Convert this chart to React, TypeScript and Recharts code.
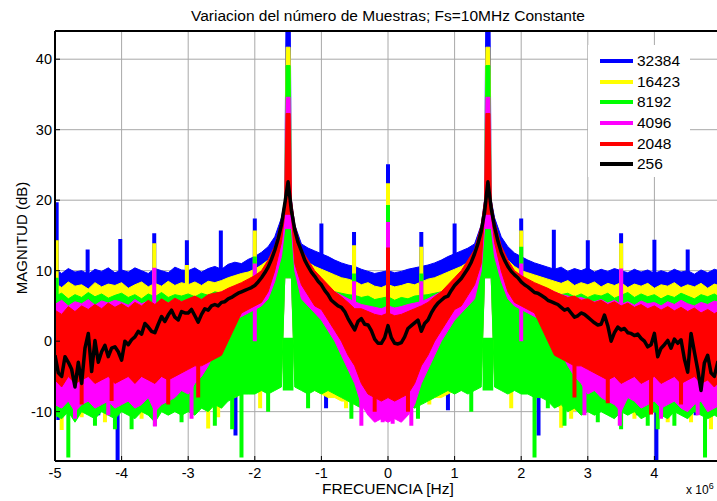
import React from 'react';
import { ComposedChart, Area, Line, XAxis, YAxis, CartesianGrid, ReferenceLine, Legend } from 'recharts';

const FONT = "'Liberation Sans', Arial, Helvetica, sans-serif";

// frequency grid (MHz) of the noise envelopes
const freq = [
  -5, -4.9, -4.8, -4.7, -4.6, -4.5, -4.4, -4.3, -4.2, -4.1,
  -4, -3.9, -3.8, -3.7, -3.6, -3.5, -3.4, -3.3, -3.2, -3.1,
  -3, -2.9, -2.8, -2.7, -2.6, -2.5, -2.4, -2.3, -2.2, -2.1,
  -2, -1.9, -1.8, -1.7, -1.6, -1.55, -1.53, -1.5, -1.47, -1.45,
  -1.4, -1.3, -1.2, -1.1, -1, -0.9, -0.8, -0.7, -0.6, -0.5,
  -0.4, -0.3, -0.2, -0.1, 0, 0.1, 0.2, 0.3, 0.4, 0.5,
  0.6, 0.7, 0.8, 0.9, 1, 1.1, 1.2, 1.3, 1.4, 1.45,
  1.47, 1.5, 1.53, 1.55, 1.6, 1.7, 1.8, 1.9, 2, 2.1,
  2.2, 2.3, 2.4, 2.5, 2.6, 2.7, 2.8, 2.9, 3, 3.1,
  3.2, 3.3, 3.4, 3.5, 3.6, 3.7, 3.8, 3.9, 4, 4.1,
  4.2, 4.3, 4.4, 4.5, 4.6, 4.7, 4.8, 4.9, 5,
];

// 32384 samples
const blueHi = [
  10.2, 9.6, 10.3, 9.8, 10.0, 9.5, 10.2, 9.9, 10.4, 9.7,
  10.1, 9.8, 10.4, 10.0, 9.6, 10.3, 10.0, 9.7, 10.5, 10.1,
  10.0, 10.4, 9.8, 10.3, 10.6, 10.2, 10.9, 11.2, 11.0, 11.6,
  12.0, 12.6, 13.4, 14.8, 17.5, 20.0, 48, 48, 48, 20.0,
  16.5, 13.8, 13.2, 12.8, 12.4, 12.0, 11.5, 11.1, 10.8, 10.6,
  10.2, 9.9, 9.6, 9.8, 10.0, 9.7, 9.9, 10.2, 10.4, 10.6,
  10.8, 11.1, 11.5, 12.0, 12.4, 12.8, 13.2, 13.8, 16.5, 20.0,
  48, 48, 48, 20.0, 17.5, 14.8, 13.4, 12.5, 12.0, 11.5,
  11.1, 10.8, 10.5, 10.2, 10.5, 9.9, 10.3, 10.0, 10.4, 9.8,
  10.2, 9.9, 10.3, 10.0, 9.7, 10.2, 9.8, 10.1, 9.6, 10.0,
  9.7, 10.2, 9.8, 10.0, 9.5, 10.1, 9.7, 10.2, 9.9,
];
const blueLo = [
  -8.5, -9.0, -8.0, -7.5, -8.5, -7.0, -8.0, -7.5, -8.5, -7.0,
  -8.0, -7.0, -7.5, -8.0, -7.0, -8.5, -7.5, -7.0, -8.0, -7.5,
  -8.0, -7.0, -7.5, -8.0, -7.0, -8.0, -7.0, -7.5, -7.0, -6.5,
  -6.5, -6.0, -6.0, -5.5, -5.0, 9, 9, 9, 9, 9,
  -5.0, -6.0, -6.5, -6.5, -7.0, -7.5, -7.0, -7.5, -8.0, -8.0,
  -8.5, -8.0, -8.5, -8.0, -8.5, -8.0, -8.5, -8.0, -8.5, -8.0,
  -7.5, -7.5, -7.0, -7.0, -6.5, -6.5, -6.0, -6.0, -5.0, 9,
  9, 9, 9, 9, -5.0, -5.5, -6.0, -6.0, -6.5, -6.5,
  -7.0, -7.5, -7.0, -8.0, -7.0, -7.5, -8.0, -7.0, -8.0, -7.5,
  -7.0, -8.0, -7.5, -7.0, -8.0, -7.5, -8.5, -7.0, -8.0, -7.5,
  -8.5, -7.0, -8.0, -7.5, -8.5, -7.0, -8.0, -9.0, -8.5,
];

// 16423 samples
const yellowHi = [
  8.2, 7.6, 8.4, 7.8, 8.0, 7.4, 8.3, 7.7, 8.1, 7.9,
  8.3, 7.5, 8.0, 8.4, 7.7, 8.2, 7.8, 8.5, 7.9, 8.3,
  8.0, 8.4, 7.9, 8.5, 8.3, 8.6, 9.0, 9.3, 9.6, 9.8,
  10.2, 10.8, 11.5, 13.0, 16.0, 19.0, 41.7, 41.7, 41.7, 19.0,
  15.0, 12.0, 11.2, 10.6, 10.2, 9.8, 9.4, 9.0, 8.8, 8.5,
  8.0, 8.3, 7.8, 7.6, 8.0, 7.7, 7.9, 8.2, 8.0, 8.4,
  8.8, 9.0, 9.4, 9.8, 10.2, 10.6, 11.2, 12.0, 15.0, 19.0,
  41.7, 41.7, 41.7, 19.0, 16.0, 13.0, 11.5, 10.6, 10.0, 9.7,
  9.4, 9.1, 8.8, 8.5, 8.2, 8.6, 7.9, 8.3, 8.0, 8.4,
  7.7, 8.2, 7.9, 8.3, 7.6, 8.1, 7.8, 8.2, 7.5, 8.0,
  7.8, 8.3, 7.6, 8.0, 7.7, 8.2, 7.5, 8.1, 7.8,
];
const yellowLo = [
  -9.5, -10.0, -9.0, -9.5, -10.5, -9.0, -9.5, -8.5, -9.0, -9.5,
  -9.0, -8.5, -9.5, -9.0, -8.5, -9.5, -9.0, -10.0, -9.0, -8.5,
  -9.0, -9.5, -8.5, -10.0, -9.0, -9.5, -8.0, -8.0, -7.5, -7.0,
  -7.0, -6.5, -6.5, -6.0, -5.5, 9, 9, 9, 9, 9,
  -5.5, -6.5, -7.0, -7.0, -7.5, -8.0, -8.0, -8.5, -8.5, -9.0,
  -9.0, -9.5, -9.0, -9.5, -9.0, -9.5, -9.0, -9.5, -9.0, -8.5,
  -8.5, -8.0, -8.0, -7.5, -7.0, -7.0, -6.5, -6.5, -5.5, 9,
  9, 9, 9, 9, -5.5, -6.0, -6.5, -6.5, -7.0, -7.0,
  -7.5, -8.0, -8.0, -9.0, -9.5, -9.0, -10.0, -9.0, -9.5, -9.0,
  -8.5, -9.5, -9.0, -8.5, -9.5, -9.0, -10.0, -9.0, -9.5, -9.0,
  -9.5, -8.5, -9.0, -10.0, -9.0, -9.5, -10.0, -9.5, -9.0,
];

// 8192 samples
const greenHi = [
  6.4, 6.8, 6.0, 6.6, 6.2, 6.9, 6.3, 6.7, 6.1, 6.5,
  6.8, 6.2, 6.6, 6.0, 6.7, 6.3, 6.9, 6.2, 6.6, 6.4,
  6.7, 6.3, 6.8, 6.5, 7.0, 6.8, 7.2, 7.4, 7.6, 7.8,
  8.1, 8.6, 9.2, 10.5, 13.0, 16.0, 39.1, 39.1, 39.1, 16.0,
  12.0, 9.6, 8.6, 8.1, 7.6, 7.3, 7.0, 6.8, 6.6, 6.5,
  6.2, 6.4, 5.9, 6.1, 6.3, 5.8, 6.2, 6.0, 6.4, 6.5,
  6.6, 6.8, 7.0, 7.3, 7.6, 8.0, 8.6, 9.5, 12.0, 16.0,
  39.1, 39.1, 39.1, 16.0, 13.0, 10.5, 9.2, 8.6, 8.1, 7.8,
  7.6, 7.3, 7.1, 6.9, 6.6, 6.8, 6.3, 6.7, 6.2, 6.6,
  6.4, 6.8, 6.1, 6.5, 6.9, 6.2, 6.7, 6.3, 6.6, 6.0,
  6.5, 6.2, 6.8, 6.4, 6.0, 6.6, 6.3, 6.7, 6.1,
];
const greenLo = [
  -10.5, -11.0, -10.0, -11.5, -10.0, -10.5, -11.0, -10.0, -10.5, -11.0,
  -10.0, -10.5, -11.0, -10.0, -10.5, -11.5, -10.0, -10.5, -10.0, -10.5,
  -10.0, -10.5, -9.5, -10.0, -9.0, -9.5, -8.5, -8.0, -7.5, -7.5,
  -7.5, -7.0, -7.5, -7.0, -6.5, 9, 9, 9, 9, 9,
  -6.5, -7.0, -7.5, -7.0, -7.5, -7.0, -7.5, -8.0, -8.5, -9.0,
  -9.5, -9.0, -10.0, -9.5, -10.0, -9.5, -10.0, -9.0, -9.5, -9.0,
  -8.5, -8.0, -7.5, -7.0, -7.5, -7.0, -7.5, -7.0, -6.5, 9,
  9, 9, 9, 9, -6.5, -7.0, -7.5, -7.0, -7.5, -7.5,
  -8.0, -8.0, -8.5, -9.5, -9.0, -10.0, -9.5, -10.5, -10.0, -10.5,
  -10.0, -10.5, -11.0, -10.0, -10.5, -10.0, -11.0, -10.5, -10.0, -10.5,
  -11.0, -10.0, -10.5, -11.0, -10.0, -10.5, -11.0, -10.5, -11.0,
];

// 4096 samples
const magentaHi = [
  5.2, 5.8, 5.0, 5.6, 5.3, 5.9, 5.1, 5.7, 5.4, 5.8,
  5.5, 5.1, 5.9, 5.3, 5.7, 5.2, 5.8, 5.4, 6.0, 5.6,
  5.8, 6.2, 5.9, 6.4, 6.6, 7.0, 7.4, 7.8, 8.1, 8.4,
  8.7, 9.2, 10.0, 12.0, 15.0, 18.0, 34.6, 34.6, 34.6, 18.0,
  14.0, 11.0, 10.0, 9.0, 8.3, 7.5, 7.0, 6.5, 6.0, 5.6,
  5.2, 5.0, 4.8, 4.6, 5.0, 4.7, 4.9, 5.2, 5.4, 5.6,
  6.0, 6.5, 7.0, 7.5, 8.3, 9.0, 10.0, 11.0, 14.0, 18.0,
  34.6, 34.6, 34.6, 18.0, 15.0, 12.0, 10.0, 9.2, 8.7, 8.4,
  8.1, 7.8, 7.4, 7.0, 6.6, 6.4, 6.0, 6.2, 5.8, 5.6,
  5.9, 5.4, 5.8, 5.2, 5.6, 5.1, 5.7, 5.3, 5.5, 5.0,
  5.6, 5.2, 5.8, 5.3, 5.0, 5.5, 5.2, 5.7, 5.4,
];
const magentaLo = [
  -9.0, -9.5, -8.5, -10.0, -9.0, -8.5, -9.5, -9.0, -8.5, -9.5,
  -9.0, -8.5, -9.5, -9.0, -8.0, -10.0, -9.0, -8.5, -8.0, -7.0,
  -7.5, -6.0, -5.0, -3.5, -1.5, 0.0, 2.0, 3.0, 3.5, 4.0,
  4.5, 5.0, 6.0, 8.5, 12.0, 16, 16, 16, 16, 16,
  10.0, 6.0, 5.0, 4.0, 3.0, 1.5, 0.0, -2.0, -4.0, -6.0,
  -9.0, -10.5, -11.5, -11.0, -11.5, -11.0, -11.5, -10.5, -9.0, -6.0,
  -4.0, -2.0, 0.0, 1.5, 3.0, 4.0, 5.0, 6.0, 10.0, 16,
  16, 16, 16, 16, 12.0, 8.5, 6.0, 5.0, 4.5, 4.0,
  3.5, 3.0, 2.0, 0.0, -1.5, -3.5, -5.0, -6.0, -7.5, -7.0,
  -8.0, -8.5, -9.0, -10.0, -8.0, -8.5, -9.5, -9.0, -8.5, -9.5,
  -9.0, -8.5, -9.5, -10.0, -9.0, -8.5, -10.0, -9.5, -9.0,
];

// 2048 samples
const redHi = [
  4.4, 3.8, 4.9, 4.2, 5.0, 4.5, 5.2, 4.6, 5.4, 4.8,
  5.3, 4.7, 5.5, 5.0, 5.8, 5.2, 6.0, 5.4, 6.1, 5.6,
  6.0, 6.4, 5.9, 6.6, 6.8, 7.0, 7.5, 7.9, 8.3, 8.8,
  9.3, 10.0, 11.5, 13.5, 17.0, 20.0, 32.3, 32.3, 32.3, 20.0,
  16.5, 13.0, 11.5, 10.0, 9.0, 8.0, 7.0, 6.3, 5.5, 4.6,
  4.6, 4.2, 3.8, 3.6, 4.0, 3.6, 3.8, 4.2, 4.6, 5.0,
  5.5, 6.3, 7.0, 8.0, 9.0, 10.0, 11.5, 13.0, 16.5, 20.0,
  32.3, 32.3, 32.3, 20.0, 17.0, 13.5, 11.5, 10.0, 9.3, 8.8,
  8.3, 7.9, 7.5, 7.0, 6.6, 6.2, 6.4, 5.8, 6.0, 5.5,
  5.8, 5.2, 5.6, 5.0, 5.4, 4.8, 5.2, 4.6, 5.0, 4.4,
  4.9, 4.3, 4.8, 4.2, 4.7, 4.0, 4.5, 3.9, 4.4,
];
const redLo = [
  -5.5, -6.5, -5.0, -6.0, -5.5, -5.0, -6.0, -5.5, -5.0, -6.0,
  -5.5, -5.0, -6.0, -5.0, -5.5, -6.0, -5.0, -5.5, -5.0, -4.5,
  -4.0, -3.5, -3.5, -3.0, -2.5, -2.0, 0.0, 2.0, 4.0, 4.5,
  5.0, 5.5, 7.0, 10.0, 14.0, 18, 18, 18, 18, 18,
  11.0, 8.0, 6.5, 5.0, 4.5, 3.0, 1.5, 0.0, -2.0, -3.5,
  -6.0, -7.5, -8.0, -8.5, -8.0, -8.5, -8.0, -7.5, -6.0, -3.5,
  -2.0, 0.0, 1.5, 3.0, 4.5, 5.0, 6.5, 8.0, 11.0, 18,
  18, 18, 18, 18, 14.0, 10.0, 7.0, 5.5, 5.0, 4.5,
  4.0, 2.0, 0.0, -2.0, -2.5, -3.0, -3.5, -3.5, -4.0, -4.5,
  -5.0, -5.5, -5.0, -6.0, -5.5, -5.0, -6.0, -5.5, -5.0, -6.0,
  -5.5, -5.0, -6.0, -5.5, -5.0, -6.0, -5.5, -6.5, -5.5,
];

// 256 samples (black line)
const freqBlack = [
  -5, -4.95, -4.9, -4.85, -4.8, -4.75, -4.7, -4.65, -4.6, -4.55,
  -4.5, -4.45, -4.4, -4.35, -4.3, -4.25, -4.2, -4.15, -4.1, -4.05,
  -4, -3.95, -3.9, -3.85, -3.8, -3.75, -3.7, -3.65, -3.6, -3.55,
  -3.5, -3.45, -3.4, -3.35, -3.3, -3.25, -3.2, -3.15, -3.1, -3.05,
  -3, -2.95, -2.9, -2.85, -2.8, -2.75, -2.7, -2.65, -2.6, -2.55,
  -2.5, -2.45, -2.4, -2.35, -2.3, -2.25, -2.2, -2.15, -2.1, -2.05,
  -2, -1.95, -1.9, -1.85, -1.8, -1.75, -1.7, -1.65, -1.6, -1.55,
  -1.5, -1.45, -1.4, -1.35, -1.3, -1.25, -1.2, -1.15, -1.1, -1.05,
  -1, -0.95, -0.9, -0.85, -0.8, -0.75, -0.7, -0.65, -0.6, -0.55,
  -0.5, -0.45, -0.4, -0.35, -0.3, -0.25, -0.2, -0.15, -0.1, -0.05,
  0, 0.05, 0.1, 0.15, 0.2, 0.25, 0.3, 0.35, 0.4, 0.45,
  0.5, 0.55, 0.6, 0.65, 0.7, 0.75, 0.8, 0.85, 0.9, 0.95,
  1, 1.05, 1.1, 1.15, 1.2, 1.25, 1.3, 1.35, 1.4, 1.45,
  1.5, 1.55, 1.6, 1.65, 1.7, 1.75, 1.8, 1.85, 1.9, 1.95,
  2, 2.05, 2.1, 2.15, 2.2, 2.25, 2.3, 2.35, 2.4, 2.45,
  2.5, 2.55, 2.6, 2.65, 2.7, 2.75, 2.8, 2.85, 2.9, 2.95,
  3, 3.05, 3.1, 3.15, 3.2, 3.25, 3.3, 3.35, 3.4, 3.45,
  3.5, 3.55, 3.6, 3.65, 3.7, 3.75, 3.8, 3.85, 3.9, 3.95,
  4, 4.05, 4.1, 4.15, 4.2, 4.25, 4.3, 4.35, 4.4, 4.45,
  4.5, 4.55, 4.6, 4.65, 4.7, 4.75, 4.8, 4.85, 4.9, 4.95,
  5,
];
const black256 = [
  -2.0, -4.5, -5.0, -2.2, -3.0, -4.0, -6.5, -3.0, -6.0, -1.0,
  1.1, -4.3, 0.1, -3.0, -1.5, -0.6, -2.2, -1.0, -0.8, -1.5,
  -2.7, 0.0, -0.5, 0.2, 0.6, 1.4, 1.0, 2.5, 2.0, 1.4,
  1.2, 2.4, 3.5, 2.8, 3.7, 4.4, 3.4, 3.0, 4.2, 4.0,
  4.0, 4.5, 3.6, 2.7, 3.8, 4.6, 4.4, 5.0, 5.2, 5.0,
  5.5, 5.6, 6.0, 6.2, 6.5, 6.8, 7.0, 7.2, 7.4, 7.6,
  7.9, 8.4, 9.0, 9.7, 10.5, 11.6, 12.9, 14.5, 16.5, 19.5,
  22.6, 18.5, 15.8, 14.0, 12.8, 11.5, 10.6, 9.8, 9.2, 8.5,
  8.0, 7.2, 6.6, 5.8, 5.4, 5.0, 4.8, 4.2, 3.2, 2.4,
  1.6, 2.8, 3.2, 2.4, 2.3, 1.5, 0.3, -0.3, -0.3, 0.5,
  2.2, 0.5, -0.3, -0.4, -0.2, 0.6, 1.8, 2.2, 2.6, 3.0,
  1.4, 2.5, 3.0, 4.0, 4.8, 5.4, 5.8, 6.2, 6.4, 7.2,
  7.9, 8.4, 8.9, 9.6, 10.3, 11.2, 12.4, 13.8, 15.6, 18.3,
  22.6, 18.8, 16.2, 14.2, 12.6, 11.5, 10.6, 9.9, 9.4, 9.0,
  8.4, 8.0, 7.7, 7.3, 6.9, 6.8, 6.5, 6.2, 5.8, 5.6,
  5.4, 5.2, 4.8, 4.4, 4.6, 4.0, 3.4, 3.6, 4.0, 3.8,
  3.4, 3.0, 2.6, 2.3, 2.4, 3.7, 2.2, 0.0, 1.2, 2.0,
  1.6, 1.8, 1.2, 1.1, 0.8, 1.0, 0.4, 0.0, -0.8, -0.5,
  1.1, -2.2, -1.0, -0.5, 0.1, -1.0, 0.3, -0.3, 0.2, -2.5,
  -4.4, 1.1, -1.5, -4.0, -7.0, -3.1, -2.0, -4.5, -5.0, -3.0,
  -2.5,
];

// isolated spurs / deep dips of each series: frequency, lower dB, upper dB
const blueSpikeF = [-4.975, -4.51, -4.02, -3.51, -3.02, -2.51, -2, -1, -0.51, 0, 0.5, 1, 2, 2.49, 3, 3.5, 4, 4.5,
  -4.95, -4.35, -4.06, -3.6, -3.15, -2.48, -2.29, -0.93, -0.25, 0.25, 0.9, 2.26, 3.3, 3.75, 4.03, 4.35, 4.62];
const blueSpikeLo = [0, 0, 0, 0, 0, 0, 0, 0, 0, 0, 0, 0, 0, 0, 0, 0, 0, 0,
  -11.2, -10.5, -17.5, -10.0, -9.5, -8.8, -13.4, -9.5, -9.8, -9.8, -9.8, -13.4, -9.0, -10.5, -17.5, -10.0, -10.5];
const blueSpikeHi = [19.7, 13.0, 14.5, 15.3, 14.3, 15.7, 17.4, 16.7, 15.5, 25.1, 15.5, 16.7, 17.4, 15.8, 14.3, 15.3, 14.4, 13.0,
  0, 0, 0, 0, 0, 0, 0, 0, 0, 0, 0, 0, 0, 0, 0, 0, 0];

const yellowSpikeF = [-4.975, -3.51, -3.02, -2, -0.51, 0, 0.5, 2, 3.5,
  -4.9, -4.6, -4.25, -3.7, -3.25, -2.7, -2.55, -1.92, -0.63, 0.62, 1.85, 2.6, 2.75, 3.2, 3.7, 4.2, 4.55, 4.85];
const yellowSpikeLo = [0, 0, 0, 0, 0, 0, 0, 0, 0,
  -12.6, -10.8, -11.5, -11.0, -9.5, -12.4, -10.8, -9.5, -9.5, -9.0, -9.5, -12.3, -11.0, -10.0, -11.0, -11.5, -11.5, -12.5];
const yellowSpikeHi = [14.3, 13.9, 10.8, 15.7, 13.6, 22.4, 13.4, 15.7, 13.9,
  0, 0, 0, 0, 0, 0, 0, 0, 0, 0, 0, 0, 0, 0, 0, 0, 0, 0];

const greenSpikeF = [-4.975, -2, -0.51, 0, 0.5, 2,
  -4.8, -4.4, -4.1, -3.85, -3.5, -3.1, -2.6, -2.34, -2.2, -1.8, -1.2, -0.55, 0.45, 1.25, 2.2, 2.4, 2.65, 3.15, 3.5, 3.9, 4.05, 4.3, 4.76,
  -1.55, -1.5, -1.45, 1.45, 1.5, 1.55];
const greenSpikeLo = [0, 0, 0, 0, 0, 0,
  -16.5, -12.0, -12.5, -12.5, -12.0, -11.5, -12.0, -12.5, -16.5, -10.0, -9.5, -11.0, -11.0, -10.0, -16.5, -9.5, -12.0, -11.5, -12.5, -12.0, -12.5, -12.0, -16.5,
  -7, -7, -7, -7, -7, -7];
const greenSpikeHi = [9.0, 12.0, 9.6, 19.3, 9.6, 13.4,
  0, 0, 0, 0, 0, 0, 0, 0, 0, 0, 0, 0, 0, 0, 0, 0, 0, 0, 0, 0, 0, 0, 0,
  0.5, 0.5, 0.5, 0.5, 0.5, 0.5];

const magentaSpikeF = [-3.51, -2, -0.51, 0, 0.5, 2, 3.5,
  -4.7, -4.2, -3.5, -2.95, -0.4, -0.08, 0.07, 0.35, 2.95, 3.48, 4.1, 4.65];
const magentaSpikeLo = [0, 0, 0, 0, 0, 0, 0,
  -11.0, -10.5, -12.1, -11.0, -12.0, -11.5, -11.7, -12.0, -10.5, -12.0, -11.0, -10.5];
const magentaSpikeHi = [10.4, 11.0, 8.5, 16.9, 8.5, 11.0, 10.3,
  0, 0, 0, 0, 0, 0, 0, 0, 0, 0, 0, 0];

const redSpikeF = [0, -4.6, -4.15, -3.3, -2.85, -0.2, 0.3, 2.8, 3.3, 3.95, 4.4];
const redSpikeLo = [0, -9.0, -8.5, -9.0, -8.0, -10.0, -10.0, -8.0, -8.8, -10.4, -9.0];
const redSpikeHi = [13.3, 0, 0, 0, 0, 0, 0, 0, 0, 0, 0];

const seriesNames = ['32384', '16423', '8192', '4096', '2048', '256'];
const seriesColors = ['#0000ff', '#ffff00', '#00ff00', '#ff00ff', '#ff0000', '#000000'];
const xTicks = [-5, -4, -3, -2, -1, 0, 1, 2, 3, 4];
const yTicks = [-10, 0, 10, 20, 30, 40];

const SPIKE_HALF = 0.03;

function bandData(hi: number[], lo: number[]) {
  return freq.map((f, i) => ({ f, r: [lo[i], hi[i]] }));
}
function spikeData(F: number[], LO: number[], HI: number[]) {
  const out: any[] = [];
  F.forEach((f, i) => {
    out.push({ f: f - SPIKE_HALF, r: [LO[i], HI[i]] });
    out.push({ f: f + SPIKE_HALF, r: [LO[i], HI[i]] });
    out.push({ f: f + SPIKE_HALF + 0.001, r: null });
  });
  return out;
}

const bands = [
  { band: bandData(blueHi, blueLo), spikes: spikeData(blueSpikeF, blueSpikeLo, blueSpikeHi) },
  { band: bandData(yellowHi, yellowLo), spikes: spikeData(yellowSpikeF, yellowSpikeLo, yellowSpikeHi) },
  { band: bandData(greenHi, greenLo), spikes: spikeData(greenSpikeF, greenSpikeLo, greenSpikeHi) },
  { band: bandData(magentaHi, magentaLo), spikes: spikeData(magentaSpikeF, magentaSpikeLo, magentaSpikeHi) },
  { band: bandData(redHi, redLo), spikes: spikeData(redSpikeF, redSpikeLo, redSpikeHi) },
];
const blackData = freqBlack.map((f, i) => ({ f, v: black256[i] }));

function LegendBox() {
  return (
    <div style={{ background: '#fff', width: 102, height: 132, paddingTop: 6, boxSizing: 'border-box' }}>
      {seriesNames.map((n, i) => (
        <div key={n} style={{ display: 'flex', alignItems: 'center', height: 20.6 }}>
          <span style={{ display: 'inline-block', marginLeft: 12, width: 33, height: 4, background: seriesColors[i] }} />
          <span style={{ marginLeft: 4, fontSize: 15.5, fontFamily: FONT, color: '#000', lineHeight: '18px' }}>{n}</span>
        </div>
      ))}
    </div>
  );
}

export default function App() {
  return (
    <div style={{ position: 'fixed', left: 0, top: 0, width: 717, height: 501, overflow: 'hidden', background: '#fff', fontFamily: FONT, color: '#000' }}>
      <div style={{ position: 'absolute', left: 0, top: 0 }}>
        <ComposedChart width={740} height={501} margin={{ top: 31, right: 19, bottom: 10, left: 15 }}>
          <CartesianGrid stroke="#a8a8a8" strokeWidth={1} />
          <XAxis
            dataKey="f"
            type="number"
            domain={[-5, 5]}
            ticks={xTicks}
            interval={0}
            allowDataOverflow
            height={30}
            tickSize={-5}
            tickMargin={12}
            axisLine={{ stroke: '#000', strokeWidth: 2 }}
            tickLine={{ stroke: '#000' }}
            tick={{ fontSize: 14.5, fill: '#000', fontFamily: FONT }}
          />
          <YAxis
            type="number"
            domain={[-17, 44]}
            ticks={yTicks}
            interval={0}
            allowDataOverflow
            width={40}
            tickSize={-5}
            tickMargin={8}
            axisLine={{ stroke: '#000', strokeWidth: 2 }}
            tickLine={{ stroke: '#000' }}
            tick={{ fontSize: 14.5, fill: '#000', fontFamily: FONT }}
          />
          {bands.map((b, i) => [
            <Area
              key={seriesNames[i] + '-band'}
              data={b.band}
              dataKey="r"
              type="linear"
              fill={seriesColors[i]}
              fillOpacity={1}
              stroke={seriesColors[i]}
              strokeWidth={1}
              dot={false}
              activeDot={false}
              legendType="none"
              isAnimationActive={false}
            />,
            <Area
              key={seriesNames[i] + '-spikes'}
              data={b.spikes}
              dataKey="r"
              type="linear"
              fill={seriesColors[i]}
              fillOpacity={1}
              stroke="none"
              dot={false}
              activeDot={false}
              legendType="none"
              isAnimationActive={false}
            />,
          ])}
          <Line
            data={blackData}
            dataKey="v"
            type="linear"
            stroke="#000"
            strokeWidth={3.5}
            strokeLinejoin="round"
            dot={false}
            activeDot={false}
            legendType="none"
            isAnimationActive={false}
          />
          <ReferenceLine y={44} stroke="#000" strokeWidth={2} />
          <Legend
            content={() => <LegendBox />}
            layout="horizontal"
            verticalAlign="middle"
            align="center"
            wrapperStyle={{ left: 588, top: 45, width: 102, height: 132 }}
          />
        </ComposedChart>
      </div>
      <div style={{ position: 'absolute', left: 0, width: 776, top: 7, textAlign: 'center', fontSize: 15.5, lineHeight: '18px', whiteSpace: 'nowrap' }}>
        Variacion del número de Muestras; Fs=10MHz Constante
      </div>
      <div style={{ position: 'absolute', left: 0, width: 776, top: 480, textAlign: 'center', fontSize: 15.5, lineHeight: '18px', whiteSpace: 'nowrap' }}>
        FRECUENCIA [Hz]
      </div>
      <div style={{ position: 'absolute', left: 22, top: 238, transform: 'translate(-50%, -50%) rotate(-90deg)', fontSize: 15, lineHeight: '18px', whiteSpace: 'nowrap' }}>
        MAGNITUD (dB)
      </div>
      <div style={{ position: 'absolute', left: 686, top: 482, fontSize: 12, lineHeight: '14px', whiteSpace: 'nowrap' }}>
        x 10<sup style={{ fontSize: 9, lineHeight: '9px' }}>6</sup>
      </div>
    </div>
  );
}
